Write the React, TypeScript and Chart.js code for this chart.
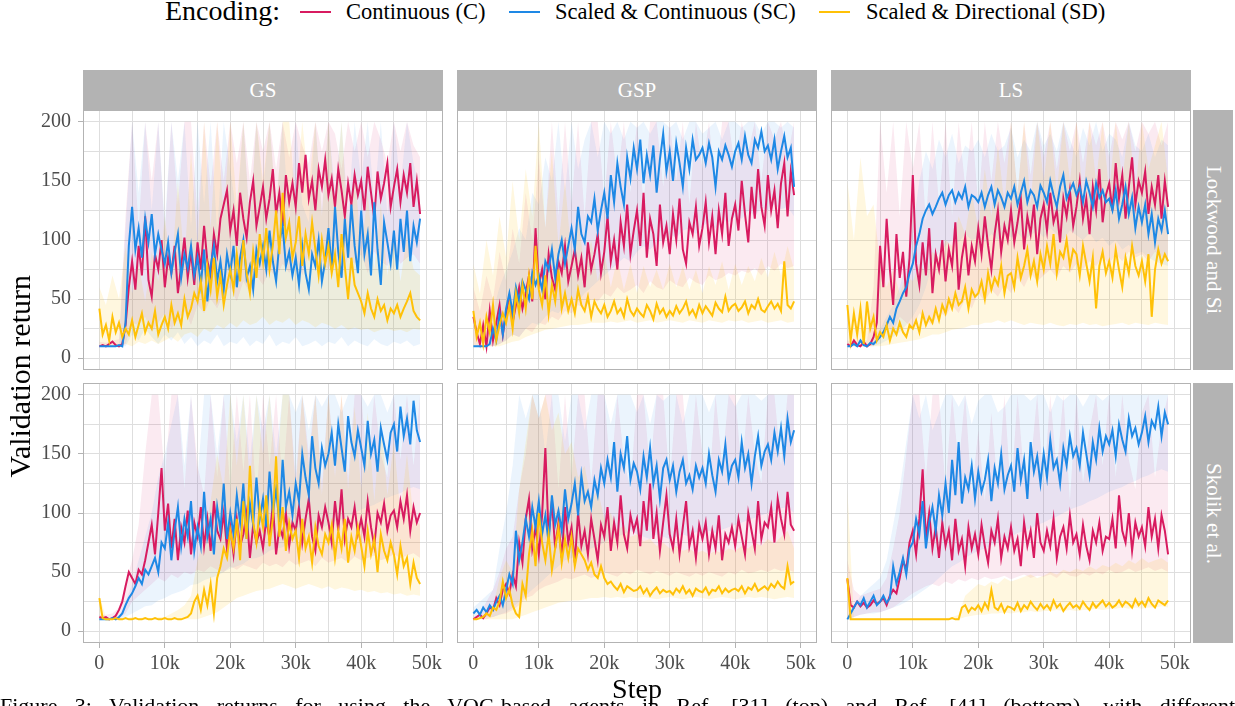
import React, { useEffect, useRef } from "react";
import { Chart, registerables } from "chart.js";

Chart.register(...registerables);

const FONT = "'Liberation Serif', 'Times New Roman', serif";

// sampling of the drawn curves (steps)
const LINE_STEP = 500;
const BAND_STEP = 1000;

// axes
const X_GRID = [0, 5000, 10000, 15000, 20000, 25000, 30000, 35000, 40000, 45000, 50000];
const X_TICKS = [0, 10000, 20000, 30000, 40000, 50000];
const X_TICK_LABELS = ["0", "10k", "20k", "30k", "40k", "50k"];
const Y_GRID = [0, 25, 50, 75, 100, 125, 150, 175, 200];
const Y_TICKS = [0, 50, 100, 150, 200];
const Y_TICK_LABELS = ["0", "50", "100", "150", "200"];

const COLUMNS = ["GS", "GSP", "LS"];
const ROWS = ["Lockwood and Si", "Skolik et al."];
const SERIES_NAMES = ["Continuous (C)", "Scaled & Continuous (SC)", "Scaled & Directional (SD)"];
const SERIES_COLORS = ["#D81B60", "#1E88E5", "#FFC107"];
const BAND_COLORS = ["rgba(216,27,96,0.09)", "rgba(30,136,229,0.09)", "rgba(255,193,7,0.13)"];

// ---------- Lockwood and Si, GS ----------
const LW_GS_C = [
  10,11,10,12,14,11,10,12,28,60,
  82,58,95,70,120,66,52,88,75,100,
  60,85,72,95,55,78,102,68,90,62,
  98,75,112,82,70,105,88,118,130,142,
  108,125,95,140,118,102,132,150,112,128,
  145,118,135,160,122,140,112,155,132,148,
  128,165,140,172,135,150,125,160,145,168,
  138,152,128,160,142,120,148,130,155,138,
  150,125,162,140,118,158,135,148,165,128,
  145,160,132,155,140,165,128,150,122
];
const LW_GS_SC = [
  10,10,10,10,10,10,11,10,30,95,
  128,92,110,85,118,98,122,88,105,92,
  80,98,72,90,105,68,88,76,95,70,
  85,62,92,48,78,95,65,82,58,88,
  72,95,60,85,100,68,78,58,92,80,
  95,75,108,82,65,98,112,78,90,70,
  85,62,95,72,58,88,78,100,65,82,
  110,75,128,90,68,118,85,130,95,72,
  125,88,105,70,132,92,62,115,98,80,
  108,75,118,90,125,82,112,98,118
];
const LW_GS_SD = [
  42,20,28,15,35,22,30,18,25,20,
  32,18,28,38,22,30,25,40,20,28,
  35,25,45,30,38,28,50,35,42,55,
  48,65,40,78,58,85,52,70,45,62,
  75,58,88,65,100,72,55,90,68,105,
  82,110,75,95,125,88,140,102,115,85,
  98,120,78,105,88,115,92,70,100,80,
  95,72,88,60,105,78,50,85,62,55,
  48,38,55,42,35,50,40,45,32,42,
  38,45,35,42,48,55,40,35,32
];
const LW_GS_C_HI = [
  14,13,15,16,120,200,110,200,150,200,
  105,200,130,200,200,120,200,145,200,150,
  200,165,200,150,200,175,200,160,200,170,
  200,180,165,200,175,200,190,160,200,175,
  200,170,200,185,165,200,175,200,180,170
];
const LW_GS_C_LO = [
  10,10,10,10,12,30,28,35,22,30,
  38,25,32,40,28,45,38,50,42,55,
  60,48,65,55,70,62,75,68,80,72,
  85,70,88,78,82,75,90,70,85,80,
  88,72,90,82,78,92,80,85,88,80
];
const LW_GS_SC_HI = [
  10,10,10,10,110,200,140,200,125,200,
  115,200,150,200,110,200,130,200,105,200,
  160,120,200,115,200,140,200,125,200,110,
  200,130,115,200,125,200,140,200,120,200,
  150,200,130,200,120,200,145,200,165,140
];
const LW_GS_SC_LO = [
  10,10,10,10,10,20,15,25,18,12,
  20,15,22,12,18,10,15,12,20,10,
  14,12,18,10,15,12,20,10,14,12,
  18,10,12,15,10,14,12,18,10,15,
  12,10,16,12,10,14,12,15,10,12
];
const LW_GS_SD_HI = [
  60,45,70,50,95,55,80,48,90,65,
  120,70,150,80,175,95,200,110,200,120,
  200,130,200,110,200,150,200,125,200,200,
  130,200,145,200,120,200,130,200,110,160,
  90,140,75,130,70,110,65,105,75,70
];
const LW_GS_SD_LO = [
  10,10,10,10,12,10,14,12,15,12,
  15,18,14,20,22,18,25,22,28,25,
  30,26,32,28,30,35,28,32,30,34,
  28,32,30,26,30,28,25,28,24,26,
  24,25,22,24,25,23,24,22,25,24
];

// ---------- Lockwood and Si, GSP ----------
const LW_GSP_C = [
  35,22,12,28,10,40,15,30,45,20,
  38,52,30,45,60,42,55,70,48,110,
  62,75,50,88,68,58,82,72,95,65,
  78,92,70,85,60,98,75,88,105,72,
  90,120,82,100,75,115,95,130,88,108,
  125,95,140,85,118,105,78,130,98,112,
  88,122,100,135,92,80,115,105,128,95,
  110,132,98,120,88,125,105,140,95,118,
  130,108,150,122,98,145,118,160,128,112,
  155,125,142,110,148,165,120,158,138
];
const LW_GSP_SC = [
  10,10,10,10,10,12,25,15,38,20,
  42,55,38,60,48,65,58,50,72,62,
  70,58,82,75,92,68,88,100,80,95,
  110,92,128,105,98,120,115,135,108,125,
  140,118,155,132,165,145,130,170,152,178,
  160,185,148,172,155,180,140,168,190,158,
  175,150,182,165,145,178,160,185,168,172,
  178,165,182,170,145,175,168,180,172,162,
  175,182,168,188,172,165,185,178,192,175,
  180,168,185,160,175,188,170,178,145
];
const LW_GSP_SD = [
  40,18,30,12,35,22,45,15,28,38,
  30,45,25,55,38,62,42,70,50,95,
  58,45,70,38,62,48,75,42,55,40,
  50,38,58,45,40,52,35,48,42,38,
  45,35,40,48,38,42,35,50,40,36,
  42,38,35,45,40,33,46,38,42,35,
  40,36,44,38,42,48,37,41,35,45,
  38,44,40,36,47,42,39,52,40,44,
  46,40,43,48,38,45,42,50,41,39,
  44,48,42,46,40,82,45,42,48
];
const LW_GSP_C_HI = [
  60,40,70,50,90,65,110,80,140,100,
  170,110,200,120,200,130,200,120,200,200,
  135,200,150,200,140,200,130,200,200,145,
  200,150,200,130,200,160,200,140,200,200,
  160,200,175,200,150,200,185,200,170,200
];
const LW_GSP_C_LO = [
  10,10,10,10,12,15,20,18,25,22,
  30,28,35,32,40,38,45,42,50,48,
  55,52,60,55,58,62,55,65,60,58,
  66,62,60,68,64,62,70,66,68,72,
  70,74,72,76,70,78,74,80,76,78
];
const LW_GSP_SC_HI = [
  10,10,12,40,60,75,90,110,100,140,
  130,170,150,200,140,200,160,185,200,170,
  200,190,200,185,200,195,200,190,200,200,
  195,200,185,200,200,190,195,200,185,200,
  200,195,200,200,190,200,200,195,200,195
];
const LW_GSP_SC_LO = [
  10,10,10,10,12,15,20,18,25,30,
  28,35,40,38,45,50,48,55,60,65,
  70,75,80,85,82,90,95,92,98,100,
  105,102,108,110,105,112,115,110,118,115,
  120,118,125,120,128,125,130,126,128,120
];
const LW_GSP_SD_HI = [
  80,55,100,70,120,85,150,100,160,120,
  200,110,175,95,150,85,120,75,100,65,
  90,60,85,58,80,55,78,60,75,58,
  80,60,78,58,75,55,78,62,82,58,
  80,62,78,65,85,68,90,70,95,75
];
const LW_GSP_SD_LO = [
  10,10,10,10,10,12,14,15,18,20,
  22,24,25,26,27,28,28,29,30,30,
  30,31,30,31,32,30,31,32,30,31,
  32,31,30,32,31,30,32,31,30,32,
  31,32,30,31,32,30,31,32,30,31
];

// ---------- Lockwood and Si, LS ----------
const LW_LS_C = [
  12,10,15,11,10,14,10,12,18,30,
  95,60,118,75,45,105,68,90,52,85,
  155,80,62,98,70,110,55,88,75,100,
  65,92,78,115,58,85,102,70,95,82,
  110,88,120,95,75,105,125,90,112,100,
  125,98,115,135,92,120,105,130,88,118,
  130,108,140,115,125,98,135,120,142,112,
  128,150,118,135,105,145,125,160,115,138,
  148,125,165,135,155,118,145,170,130,150,
  140,158,122,145,130,155,118,150,128
];
const LW_LS_SC = [
  10,10,12,10,15,11,10,13,12,15,
  18,22,28,35,30,42,48,55,60,72,
  80,95,105,118,125,130,122,128,135,140,
  130,138,142,132,140,135,145,128,138,136,
  132,140,128,138,145,130,142,136,128,140,
  135,145,130,140,150,132,142,138,128,146,
  140,132,150,138,128,145,155,135,142,148,
  138,145,132,150,140,128,148,136,142,132,
  135,125,142,118,130,145,122,136,110,128,
  115,130,105,122,98,118,108,125,105
];
const LW_LS_SD = [
  45,15,38,20,42,12,48,25,35,15,
  22,18,28,15,25,20,30,22,18,28,
  25,32,22,38,28,35,30,42,32,45,
  38,50,42,55,45,48,60,42,58,52,
  55,65,50,72,58,68,62,78,55,70,
  72,60,85,68,78,92,70,82,65,88,
  75,95,80,105,72,90,85,100,78,92,
  88,70,95,80,65,85,42,78,90,72,
  82,68,92,75,60,85,72,95,78,70,
  82,65,88,35,75,92,80,88,82
];
const LW_LS_C_HI = [
  15,14,16,15,60,200,140,200,120,200,
  160,200,115,200,130,200,120,200,145,200,
  130,200,150,200,165,200,140,200,155,200,
  170,200,160,200,175,200,165,200,180,200,
  170,200,185,200,175,200,190,200,180,200
];
const LW_LS_C_LO = [
  10,10,10,10,10,20,28,22,35,30,
  25,38,32,28,40,35,45,38,50,42,
  55,48,58,52,62,55,68,60,72,65,
  70,75,68,78,72,80,75,82,78,85,
  80,88,82,90,85,88,82,90,86,84
];
const LW_LS_SC_HI = [
  10,10,12,10,18,25,35,45,60,80,
  110,150,175,160,185,170,190,165,180,175,
  185,170,190,175,180,195,170,185,175,200,
  180,190,175,200,185,170,195,180,200,175,
  190,185,170,200,180,175,190,170,185,180
];
const LW_LS_SC_LO = [
  10,10,10,10,10,12,15,18,22,28,
  35,45,60,80,90,95,100,98,105,100,
  102,98,105,100,108,102,106,100,104,108,
  102,110,105,100,108,104,100,106,98,102,
  95,100,92,96,88,90,85,82,80,78
];
const LW_LS_SD_HI = [
  150,100,170,120,130,80,60,75,55,70,
  65,80,72,90,85,100,95,120,105,140,
  110,160,120,180,130,200,140,200,130,200,
  150,200,140,200,150,200,135,200,150,200,
  140,200,150,200,140,200,160,180,200,150
];
const LW_LS_SD_LO = [
  10,10,10,10,10,10,11,12,13,14,
  15,16,18,20,20,22,24,25,26,28,
  28,30,30,32,30,32,30,28,30,29,
  28,30,28,27,29,28,30,28,29,27,
  28,29,30,28,30,29,28,30,29,28
];

// ---------- Skolik et al., GS ----------
const SK_GS_C = [
  12,11,12,10,11,13,18,25,38,50,
  45,40,52,48,60,75,90,65,100,138,
  85,108,70,95,60,88,75,102,65,92,
  80,105,72,95,68,110,85,78,100,70,
  88,65,95,72,82,100,62,90,75,85,
  70,95,78,108,65,88,80,100,72,92,
  85,105,75,95,112,80,68,98,88,105,
  92,75,110,85,120,78,95,88,105,82,
  95,80,110,88,72,100,92,108,85,98,
  102,88,110,95,115,85,105,92,100
];
const SK_GS_SC = [
  10,10,10,10,11,10,12,15,22,28,
  32,38,45,40,52,48,55,62,50,75,
  70,92,60,85,105,72,95,80,110,68,
  88,72,118,80,95,65,105,85,125,78,
  100,82,115,92,125,78,108,90,130,95,
  112,88,135,100,120,92,145,105,118,98,
  125,110,150,130,115,165,138,125,155,140,
  150,168,140,175,155,135,182,160,148,170,
  155,140,178,150,162,135,172,158,145,168,
  175,152,190,165,180,158,195,170,160
];
const SK_GS_SD = [
  28,11,10,10,10,11,10,10,11,10,
  10,11,10,10,11,10,10,11,10,10,
  11,10,10,11,10,10,11,12,15,25,
  30,18,35,22,40,15,45,55,70,62,
  85,70,95,60,110,78,140,92,75,105,
  88,115,72,95,148,80,105,68,92,78,
  85,62,95,70,80,58,88,72,65,82,
  75,90,62,85,70,95,58,80,68,88,
  72,55,85,65,78,50,82,68,60,75,
  65,48,72,55,62,40,58,45,40
];
const SK_GS_C_HI = [
  14,14,15,20,40,60,90,150,200,200,
  130,200,200,120,200,140,115,200,130,200,
  120,200,135,200,110,200,140,200,125,200,
  130,200,150,200,125,200,140,200,130,200,
  200,135,200,150,130,200,145,200,140,200
];
const SK_GS_C_LO = [
  10,10,10,10,15,25,30,35,40,45,
  42,48,45,50,48,52,50,55,52,50,
  55,52,56,54,52,58,55,57,54,60,
  56,58,60,55,62,58,60,62,58,63,
  60,62,64,60,62,65,62,64,66,62
];
const SK_GS_SC_HI = [
  10,10,10,12,25,40,60,80,100,130,
  150,175,200,140,200,130,200,200,150,200,
  200,160,200,145,200,170,200,150,200,200,
  185,200,170,200,190,200,200,185,200,200,
  200,190,200,200,185,200,200,200,200,200
];
const SK_GS_SC_LO = [
  10,10,10,10,12,15,18,21,22,26,
  28,31,33,35,39,40,43,45,47,50,
  53,55,57,61,62,64,68,70,71,75,
  78,79,83,85,87,90,93,95,97,100,
  103,105,107,110,113,115,117,120,122,120
];
const SK_GS_SD_HI = [
  30,12,11,11,11,12,11,12,11,12,
  12,15,18,22,30,60,80,110,150,120,
  200,140,200,125,200,150,200,130,200,200,
  120,200,140,200,115,200,130,200,120,190,
  120,185,110,180,115,160,100,150,95,90
];
const SK_GS_SD_LO = [
  10,10,10,10,10,10,10,10,10,10,
  10,10,10,10,10,10,12,14,16,20,
  24,28,30,32,34,35,36,38,40,38,
  36,38,40,38,36,38,35,37,36,34,
  35,33,34,32,33,31,32,30,31,30
];

// ---------- Skolik et al., GSP ----------
const SK_GSP_C = [
  10,12,14,11,15,20,18,28,22,35,
  40,32,48,38,75,58,95,112,70,88,
  65,98,155,80,110,70,92,62,105,75,
  88,58,100,72,85,65,95,78,60,90,
  80,105,68,92,75,115,82,70,98,85,
  95,72,110,85,125,78,100,68,92,115,
  82,70,95,65,88,110,72,85,62,90,
  78,92,65,85,70,98,60,82,75,88,
  72,95,80,65,100,85,70,110,78,92,
  88,105,75,112,95,82,118,90,85
];
const SK_GSP_SC = [
  15,18,14,20,16,22,18,25,30,22,
  35,48,40,85,60,75,95,80,105,88,
  110,82,98,75,115,90,102,85,120,95,
  108,125,98,132,110,118,105,128,115,138,
  125,145,130,160,118,150,138,165,128,142,
  135,120,148,130,155,125,140,112,138,145,
  128,140,118,135,145,125,132,120,140,130,
  138,125,150,132,118,145,135,158,128,140,
  145,130,160,138,150,125,148,165,140,152,
  158,145,168,152,172,148,180,160,170
];
const SK_GSP_SD = [
  10,10,11,12,15,13,20,18,25,42,
  28,35,22,15,12,40,30,65,85,55,
  100,75,60,82,52,70,88,58,78,62,
  80,55,70,65,60,52,58,48,45,55,
  45,40,42,38,35,40,33,38,36,34,
  35,38,32,36,30,34,37,32,35,33,
  34,31,36,33,38,32,35,30,36,34,
  33,37,31,35,34,38,32,36,33,35,
  36,34,38,32,37,35,40,34,36,38,
  35,40,37,42,38,36,55,40,42
];
const SK_GSP_C_HI = [
  12,15,25,35,50,70,80,120,150,200,
  180,200,200,120,200,130,200,200,125,200,
  200,130,200,145,120,200,200,135,200,200,
  125,200,200,130,200,150,120,200,140,200,
  200,135,200,150,125,200,200,140,200,200
];
const SK_GSP_C_LO = [
  10,10,10,12,14,15,18,22,28,30,
  35,38,40,42,45,44,46,48,45,47,
  50,48,46,50,48,52,50,48,51,49,
  47,50,48,46,49,47,50,48,46,50,
  48,52,49,50,52,50,53,51,52,50
];
const SK_GSP_SC_HI = [
  20,25,30,35,70,100,140,200,180,200,
  200,150,200,200,160,200,200,170,200,200,
  200,175,200,200,200,185,200,175,200,195,
  200,200,175,200,200,200,185,200,200,200,
  190,200,200,200,195,200,200,200,200,200
];
const SK_GSP_SC_LO = [
  12,12,12,12,14,16,20,25,30,35,
  40,45,50,55,60,62,65,68,70,72,
  75,78,80,82,85,82,80,78,82,80,
  78,80,82,80,84,82,85,83,86,88,
  90,92,94,96,98,100,102,104,105,100
];
const SK_GSP_SD_HI = [
  11,12,15,20,45,60,50,120,160,200,
  180,200,170,185,150,160,130,140,110,120,
  95,100,85,90,80,82,76,78,72,75,
  70,72,68,70,66,68,65,68,66,70,
  68,72,70,75,72,78,74,80,85,70
];
const SK_GSP_SD_LO = [
  10,10,10,10,10,10,10,12,14,16,
  18,20,22,24,25,26,26,27,28,28,
  29,28,29,28,29,28,29,28,27,28,
  29,28,27,28,29,28,27,28,29,28,
  27,28,29,28,29,28,27,28,29,28
];

// ---------- Skolik et al., LS ----------
const SK_LS_C = [
  44,22,20,25,21,24,20,22,26,23,
  25,28,22,30,35,32,45,60,52,75,
  85,65,95,137,78,100,70,88,62,92,
  72,85,60,95,68,78,55,88,70,82,
  65,90,72,58,85,75,95,62,80,70,
  88,68,78,55,92,72,85,62,100,75,
  68,85,72,95,62,80,88,70,98,75,
  82,65,90,72,60,85,75,92,68,80,
  78,95,70,115,85,75,100,68,92,80,
  88,72,105,80,95,70,98,85,65
];
const SK_LS_SC = [
  10,15,20,25,22,28,20,25,30,22,
  25,30,24,28,55,40,50,62,48,70,
  75,95,82,110,70,92,105,85,115,98,
  125,100,145,115,160,108,130,120,140,112,
  135,118,128,145,110,138,125,150,120,132,
  140,118,155,128,145,112,160,135,148,125,
  150,130,162,138,145,125,155,140,165,148,
  155,140,168,150,132,160,145,172,152,165,
  158,170,148,175,162,152,180,165,172,158,
  168,182,160,178,172,190,165,185,175
];
const SK_LS_SD = [
  45,10,10,10,10,10,10,10,10,10,
  10,10,10,10,10,10,10,10,10,10,
  10,10,10,10,10,10,10,10,10,10,
  10,10,11,10,10,20,22,16,20,18,
  22,17,24,19,35,20,18,23,16,21,
  20,18,24,17,22,19,25,21,18,23,
  19,22,18,26,20,23,17,21,24,20,
  22,19,25,21,18,24,20,23,26,21,
  24,20,22,26,21,25,23,20,27,22,
  25,21,28,23,20,26,24,22,26
];
const SK_LS_C_HI = [
  60,35,30,32,34,36,45,70,100,150,
  200,200,130,200,200,120,200,140,200,115,
  170,110,185,120,200,115,200,130,140,200,
  120,200,135,200,110,200,125,170,200,140,
  200,130,200,145,120,185,200,130,175,200
];
const SK_LS_C_LO = [
  10,12,14,15,16,16,18,20,24,28,
  32,35,38,40,38,42,40,44,42,45,
  43,46,44,45,47,44,46,48,45,47,
  46,48,45,50,47,46,49,47,50,48,
  52,49,50,53,50,52,54,51,53,50
];
const SK_LS_SC_HI = [
  10,20,30,35,40,45,60,90,120,160,
  200,180,200,170,185,200,200,190,200,175,
  195,200,200,185,190,200,200,200,195,200,
  200,185,200,195,200,200,190,200,200,195,
  200,200,200,200,200,200,200,200,200,200
];
const SK_LS_SC_LO = [
  10,12,14,15,15,16,18,20,22,25,
  28,32,36,40,45,50,55,58,62,65,
  68,70,73,75,77,80,83,85,87,90,
  92,95,97,100,103,105,107,110,112,115,
  118,120,122,125,127,130,132,135,137,135
];
const SK_LS_SD_HI = [
  120,11,11,11,11,11,11,11,11,11,
  11,11,11,11,11,11,12,14,30,35,
  40,38,42,40,45,42,44,46,48,45,
  47,50,48,52,50,53,51,55,52,56,
  54,58,55,60,57,62,58,60,62,58
];
const SK_LS_SD_LO = [
  10,10,10,10,10,10,10,10,10,10,
  10,10,10,10,10,10,10,10,12,13,
  14,14,15,15,16,15,16,16,17,16,
  17,17,18,17,18,17,18,18,19,18,
  19,19,20,19,20,19,20,20,21,20
];

type PanelData = {
  row: number;
  col: number;
  lines: number[][];
  lows: number[][];
  highs: number[][];
};

const PANELS: PanelData[] = [
  { row: 0, col: 0, lines: [LW_GS_C, LW_GS_SC, LW_GS_SD], lows: [LW_GS_C_LO, LW_GS_SC_LO, LW_GS_SD_LO], highs: [LW_GS_C_HI, LW_GS_SC_HI, LW_GS_SD_HI] },
  { row: 0, col: 1, lines: [LW_GSP_C, LW_GSP_SC, LW_GSP_SD], lows: [LW_GSP_C_LO, LW_GSP_SC_LO, LW_GSP_SD_LO], highs: [LW_GSP_C_HI, LW_GSP_SC_HI, LW_GSP_SD_HI] },
  { row: 0, col: 2, lines: [LW_LS_C, LW_LS_SC, LW_LS_SD], lows: [LW_LS_C_LO, LW_LS_SC_LO, LW_LS_SD_LO], highs: [LW_LS_C_HI, LW_LS_SC_HI, LW_LS_SD_HI] },
  { row: 1, col: 0, lines: [SK_GS_C, SK_GS_SC, SK_GS_SD], lows: [SK_GS_C_LO, SK_GS_SC_LO, SK_GS_SD_LO], highs: [SK_GS_C_HI, SK_GS_SC_HI, SK_GS_SD_HI] },
  { row: 1, col: 1, lines: [SK_GSP_C, SK_GSP_SC, SK_GSP_SD], lows: [SK_GSP_C_LO, SK_GSP_SC_LO, SK_GSP_SD_LO], highs: [SK_GSP_C_HI, SK_GSP_SC_HI, SK_GSP_SD_HI] },
  { row: 1, col: 2, lines: [SK_LS_C, SK_LS_SC, SK_LS_SD], lows: [SK_LS_C_LO, SK_LS_SC_LO, SK_LS_SD_LO], highs: [SK_LS_C_HI, SK_LS_SC_HI, SK_LS_SD_HI] },
];

// layout
const PANEL_LEFT = [83, 457, 831];
const PANEL_TOP = [110, 383];
const PANEL_W = 360;
const PANEL_H = 260;
const Y_AXIS_W = 83;
const X_AXIS_H = 45;
const STRIP_TOP = 70;
const STRIP_H = 40;
const RSTRIP_LEFT = 1193;
const RSTRIP_W = 40;
const GRID_COLOR = "#dedede";
const FRAME_COLOR = "#b3b3b3";
const TICK_TEXT = "#4d4d4d";

const panelFrame = {
  id: "panelFrame",
  afterDraw(chart: any) {
    const { ctx, chartArea: a } = chart;
    ctx.save();
    ctx.strokeStyle = FRAME_COLOR;
    ctx.lineWidth = 1;
    ctx.strokeRect(a.left + 0.5, a.top + 0.5, a.right - a.left - 1, a.bottom - a.top - 1);
    ctx.restore();
  },
};

function Panel({ p }: { p: PanelData }) {
  const ref = useRef<HTMLCanvasElement | null>(null);
  const showY = p.col === 0;
  const showX = p.row === 1;
  const left = showY ? PANEL_LEFT[0] - Y_AXIS_W : PANEL_LEFT[p.col];
  const width = showY ? PANEL_W + Y_AXIS_W : PANEL_W;
  const top = PANEL_TOP[p.row];
  const height = PANEL_H + (showX ? X_AXIS_H : 0);

  useEffect(() => {
    if (!ref.current) return;
    const datasets: any[] = [];
    for (let s = 0; s < 3; s++) {
      datasets.push({
        data: p.lows[s].map((v, i) => ({ x: i * BAND_STEP, y: v })),
        borderColor: "transparent",
        borderWidth: 0,
        pointRadius: 0,
        fill: false,
        order: 5 - s,
      });
      datasets.push({
        data: p.highs[s].map((v, i) => ({ x: i * BAND_STEP, y: v })),
        borderColor: "transparent",
        borderWidth: 0,
        pointRadius: 0,
        backgroundColor: BAND_COLORS[s],
        fill: "-1",
        order: 5 - s,
      });
    }
    for (let s = 0; s < 3; s++) {
      datasets.push({
        data: p.lines[s].map((v, i) => ({ x: i * LINE_STEP, y: v })),
        borderColor: SERIES_COLORS[s],
        borderWidth: 2,
        pointRadius: 0,
        fill: false,
        tension: 0,
        order: 2 - s,
      });
    }

    const chart = new Chart(ref.current, {
      type: "line",
      data: { datasets },
      plugins: [panelFrame],
      options: {
        responsive: false,
        animation: false,
        devicePixelRatio: 1,
        events: [],
        layout: { padding: 0 },
        plugins: { legend: { display: false }, tooltip: { enabled: false } },
        scales: {
          x: {
            type: "linear",
            min: -2500,
            max: 52500,
            afterBuildTicks: (s: any) => {
              s.ticks = X_GRID.map((v) => ({ value: v }));
            },
            afterFit: (s: any) => {
              s.height = showX ? X_AXIS_H : 0;
              s.paddingLeft = 0;
              s.paddingRight = 0;
            },
            border: { display: false },
            grid: {
              color: GRID_COLOR,
              lineWidth: 1,
              drawTicks: showX,
              tickLength: 5,
              tickColor: (c: any) => (c.tick && X_TICKS.includes(c.tick.value) ? FRAME_COLOR : "rgba(0,0,0,0)"),
            },
            ticks: {
              display: showX,
              autoSkip: false,
              maxRotation: 0,
              minRotation: 0,
              padding: 4,
              color: TICK_TEXT,
              font: { family: FONT, size: 20 },
              callback: (v: any) => {
                const k = X_TICKS.indexOf(Number(v));
                return k >= 0 ? X_TICK_LABELS[k] : "";
              },
            },
          },
          y: {
            type: "linear",
            min: -10,
            max: 210,
            afterBuildTicks: (s: any) => {
              s.ticks = Y_GRID.map((v) => ({ value: v }));
            },
            afterFit: (s: any) => {
              s.width = showY ? Y_AXIS_W : 0;
              s.paddingTop = 0;
              s.paddingBottom = 0;
            },
            border: { display: false },
            grid: {
              color: GRID_COLOR,
              lineWidth: 1,
              drawTicks: showY,
              tickLength: 5,
              tickColor: (c: any) => (c.tick && Y_TICKS.includes(c.tick.value) ? FRAME_COLOR : "rgba(0,0,0,0)"),
            },
            ticks: {
              display: showY,
              autoSkip: false,
              padding: 7,
              color: TICK_TEXT,
              font: { family: FONT, size: 20 },
              callback: (v: any) => {
                const k = Y_TICKS.indexOf(Number(v));
                return k >= 0 ? Y_TICK_LABELS[k] : "";
              },
            },
          },
        },
      } as any,
    });
    return () => chart.destroy();
  }, []);

  return (
    <div style={{ position: "absolute", left, top, width, height }}>
      <canvas ref={ref} width={width} height={height} style={{ display: "block", width, height }} />
    </div>
  );
}

export default function App() {
  const legendKeyX = [300, 509, 819];
  const legendTextX = [346, 555, 866];
  return (
    <div
      style={{
        position: "fixed",
        left: 0,
        top: 0,
        width: 1235,
        height: 706,
        overflow: "hidden",
        background: "#ffffff",
        fontFamily: FONT,
      }}
    >
      {/* legend */}
      <div style={{ position: "absolute", left: 165, top: -3, fontSize: 28, lineHeight: "28px", color: "#000", whiteSpace: "nowrap" }}>
        Encoding:
      </div>
      {SERIES_NAMES.map((n, i) => (
        <React.Fragment key={n}>
          <div style={{ position: "absolute", left: legendKeyX[i], top: 11, width: 31, height: 2, background: SERIES_COLORS[i] }} />
          <div style={{ position: "absolute", left: legendTextX[i], top: 1, fontSize: 22.5, lineHeight: "22.5px", color: "#000", whiteSpace: "nowrap" }}>
            {n}
          </div>
        </React.Fragment>
      ))}

      {/* column strips */}
      {COLUMNS.map((c, i) => (
        <div
          key={c}
          style={{
            position: "absolute",
            left: PANEL_LEFT[i],
            top: STRIP_TOP,
            width: PANEL_W,
            height: STRIP_H,
            background: FRAME_COLOR,
            color: "#ffffff",
            fontSize: 21,
            display: "flex",
            alignItems: "center",
            justifyContent: "center",
          }}
        >
          {c}
        </div>
      ))}

      {/* row strips */}
      {ROWS.map((r, i) => (
        <div
          key={r}
          style={{
            position: "absolute",
            left: RSTRIP_LEFT,
            top: PANEL_TOP[i],
            width: RSTRIP_W,
            height: PANEL_H,
            background: FRAME_COLOR,
            color: "#ffffff",
            fontSize: 21,
            display: "flex",
            alignItems: "center",
            justifyContent: "center",
          }}
        >
          <span style={{ writingMode: "vertical-rl", whiteSpace: "nowrap" }}>{r}</span>
        </div>
      ))}

      {PANELS.map((p) => (
        <Panel key={`${p.row}-${p.col}`} p={p} />
      ))}

      {/* axis titles */}
      <div
        style={{
          position: "absolute",
          left: 2,
          top: PANEL_TOP[0],
          width: 36,
          height: PANEL_TOP[1] + PANEL_H - PANEL_TOP[0],
          display: "flex",
          alignItems: "center",
          justifyContent: "center",
        }}
      >
        <span style={{ writingMode: "vertical-rl", transform: "rotate(180deg)", fontSize: 30, whiteSpace: "nowrap", color: "#000" }}>
          Validation return
        </span>
      </div>
      <div
        style={{
          position: "absolute",
          left: PANEL_LEFT[0],
          width: PANEL_LEFT[2] + PANEL_W - PANEL_LEFT[0],
          top: 675,
          textAlign: "center",
          fontSize: 28,
          lineHeight: "28px",
          color: "#000",
        }}
      >
        Step
      </div>

      {/* caption (cut off by the page edge) */}
      <div
        style={{
          position: "absolute",
          left: 0,
          top: 695,
          width: 1235,
          fontSize: 22,
          lineHeight: "22px",
          color: "#000",
          textAlign: "justify",
          textAlignLast: "justify",
          whiteSpace: "nowrap",
        } as any}
      >
        Figure 3: Validation returns for using the VQC-based agents in Ref. [31] (top) and Ref. [41] (bottom), with different
      </div>
    </div>
  );
}
